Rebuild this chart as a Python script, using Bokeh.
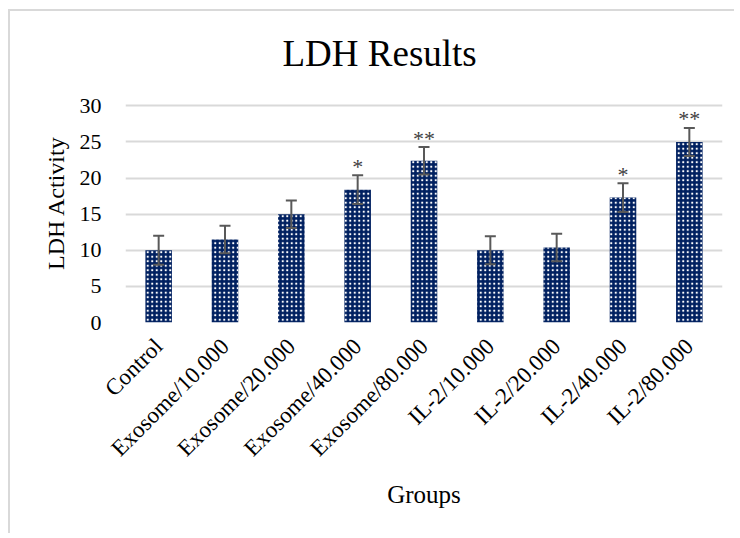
import math
from bokeh.plotting import figure
from bokeh.models import ColumnDataSource, Whisker, TeeHead, Range1d, FactorRange, Title
from bokeh.core.properties import value
from bokeh.embed import file_html
from bokeh.resources import INLINE

groups = ["Control", "Exosome/10.000", "Exosome/20.000", "Exosome/40.000",
          "Exosome/80.000", "IL-2/10.000", "IL-2/20.000", "IL-2/40.000", "IL-2/80.000"]
ldh = [10.0, 11.5, 15.0, 18.4, 22.4, 10.0, 10.4, 17.3, 25.0]
err = [2.0, 1.9, 1.9, 2.0, 1.9, 1.95, 1.9, 2.0, 1.95]
marks = ["", "", "", "*", "**", "", "", "*", "**"]
y_ticks = [0, 5, 10, 15, 20, 25, 30]

SERIF = "Liberation Serif"

src = ColumnDataSource(dict(
    groups=groups, ldh=ldh,
    upper=[v + e for v, e in zip(ldh, err)],
    lower=[v - e for v, e in zip(ldh, err)],
    marks=marks,
))

p = figure(x_range=FactorRange(factors=groups, range_padding=0),
           y_range=Range1d(0, 33.1),
           width=726, height=524, output_backend="svg", toolbar_location=None,
           min_border_left=115, min_border_right=14, min_border_top=72, min_border_bottom=213)

p.title = Title(text="LDH Results", align="left", offset=157, text_font=SERIF,
                text_font_size="37px", text_font_style="normal", text_color="#000000",
                standoff=20)

p.vbar(x="groups", top="ldh", width=0.4, source=src,
       fill_color="#002060", line_color=None,
       hatch_pattern="dot", hatch_color="white", hatch_scale=4.5, hatch_weight=0.5)

w = Whisker(base="groups", upper="upper", lower="lower", source=src,
            line_color="#595959", line_width=2, level="annotation",
            upper_head=TeeHead(size=11, line_color="#595959", line_width=2),
            lower_head=TeeHead(size=11, line_color="#595959", line_width=2))
p.add_layout(w)

p.text(x="groups", y="upper", text="marks", source=src, text_align="center",
       text_baseline="alphabetic", y_offset=-9, text_font=value(SERIF),
       text_font_size="22px", text_color="#404040")

# axes
p.xaxis.axis_line_color = None
p.xaxis.major_tick_line_color = None
p.xaxis.minor_tick_line_color = None
p.xaxis.major_label_orientation = math.pi / 4
p.xaxis.major_label_text_font = SERIF
p.xaxis.major_label_text_font_size = "23px"
p.xaxis.major_label_text_color = "#000000"
p.xaxis.major_label_standoff = 14
p.xaxis.axis_label = "Groups"
p.xaxis.axis_label_text_font = SERIF
p.xaxis.axis_label_text_font_size = "25px"
p.xaxis.axis_label_text_font_style = "normal"
p.xaxis.axis_label_text_color = "#000000"
p.xaxis.axis_label_standoff = 8

p.yaxis.ticker = y_ticks
p.yaxis.axis_line_color = None
p.yaxis.major_tick_line_color = None
p.yaxis.minor_tick_line_color = None
p.yaxis.major_label_text_font = SERIF
p.yaxis.major_label_text_font_size = "22px"
p.yaxis.major_label_text_color = "#000000"
p.yaxis.major_label_standoff = 18
p.yaxis.axis_label = "LDH Activity"
p.yaxis.axis_label_text_font = SERIF
p.yaxis.axis_label_text_font_size = "24px"
p.yaxis.axis_label_text_font_style = "normal"
p.yaxis.axis_label_text_color = "#000000"
p.yaxis.axis_label_standoff = 8

p.xgrid.grid_line_color = None
p.ygrid.grid_line_color = "#d9d9d9"
p.ygrid.grid_line_width = 1.8
p.outline_line_color = None
p.styles = {"margin-left": "8px", "margin-top": "9px",
            "border-left": "2px solid #d9d9d9", "border-top": "2px solid #d9d9d9"}

open("out.html", "w").write(file_html(p, INLINE))
